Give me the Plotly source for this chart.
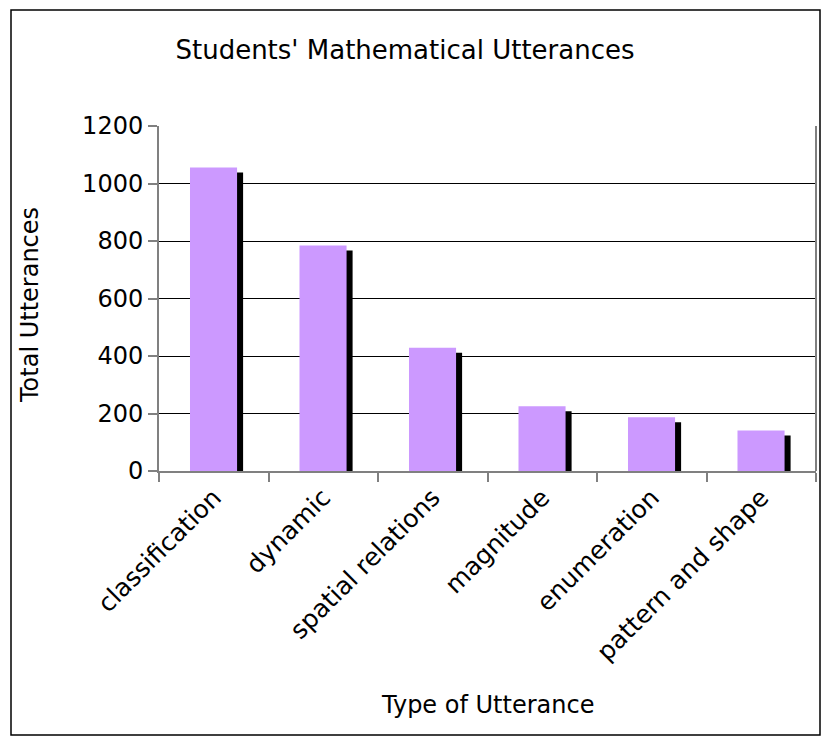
import plotly.graph_objects as go

categories = ["classification", "dynamic", "spatial relations", "magnitude", "enumeration", "pattern and shape"]
values = [1056, 784, 429, 225, 187, 141]
y_ticks = [0, 200, 400, 600, 800, 1000, 1200]

W, H = 822, 738
L, R, T, B = 159, 816, 126, 471
pw, ph = R - L, B - T

# shadow drop (in data units) derived from the axis scale
shadow_drop = 5 * 1200 / ph
shadow_vals = [v - shadow_drop for v in values]

FONT = "DejaVu Sans"

fig = go.Figure()
fig.add_trace(go.Bar(x=categories, y=shadow_vals, width=0.43, offset=-0.162,
                     marker=dict(color="black", line=dict(width=0)), hoverinfo="skip"))
fig.add_trace(go.Bar(x=categories, y=values, width=0.43, offset=-0.217,
                     marker=dict(color="#CC99FF", line=dict(width=0))))

def px(x):
    return (x - L) / pw

def py(y):
    return (B - y) / ph

shapes = [
    dict(type="rect", xref="paper", yref="paper", x0=px(11), x1=px(820), y0=py(735), y1=py(10),
         line=dict(color="black", width=1.5), layer="below"),
    dict(type="line", xref="paper", yref="paper", x0=1, x1=1, y0=0, y1=1,
         line=dict(color="#808080", width=2)),
]

annotations = [
    dict(text="Type of Utterance", xref="paper", yref="paper", x=px(487), y=py(705),
         xanchor="center", yanchor="middle", showarrow=False, font=dict(size=24, family=FONT)),
    dict(text="Total Utterances", xref="paper", yref="paper", x=px(30), y=py(305),
         xanchor="center", yanchor="middle", showarrow=False, textangle=-90,
         font=dict(size=24, family=FONT)),
]

fig.update_layout(
    width=W, height=H,
    margin=dict(l=L, r=W - R, t=T, b=H - B),
    paper_bgcolor="white", plot_bgcolor="white",
    barmode="overlay", showlegend=False,
    font=dict(family=FONT, color="black", size=24),
    title=dict(text="Students' Mathematical Utterances", x=405 / W, xanchor="center",
               y=1 - 50 / H, yanchor="middle", xref="container", yref="container",
               font=dict(size=26, family=FONT, color="black")),
    shapes=shapes,
    annotations=annotations,
    xaxis=dict(type="category", tickangle=-45, tickson="boundaries", ticks="outside", ticklen=9,
               tickcolor="#808080", tickwidth=1.5, showline=True, linecolor="#808080", linewidth=2,
               showgrid=False, tickfont=dict(size=25, family=FONT),
               range=[-0.5, 5.5]),
    yaxis=dict(range=[0, 1200], tickvals=y_ticks, ticks="outside", ticklen=9,
               tickcolor="#808080", tickwidth=1.5, showline=True, linecolor="#808080", linewidth=2,
               showgrid=True, gridcolor="black", gridwidth=1, zeroline=False,
               tickfont=dict(size=24, family=FONT)),
)

fig.write_html("out.html")
